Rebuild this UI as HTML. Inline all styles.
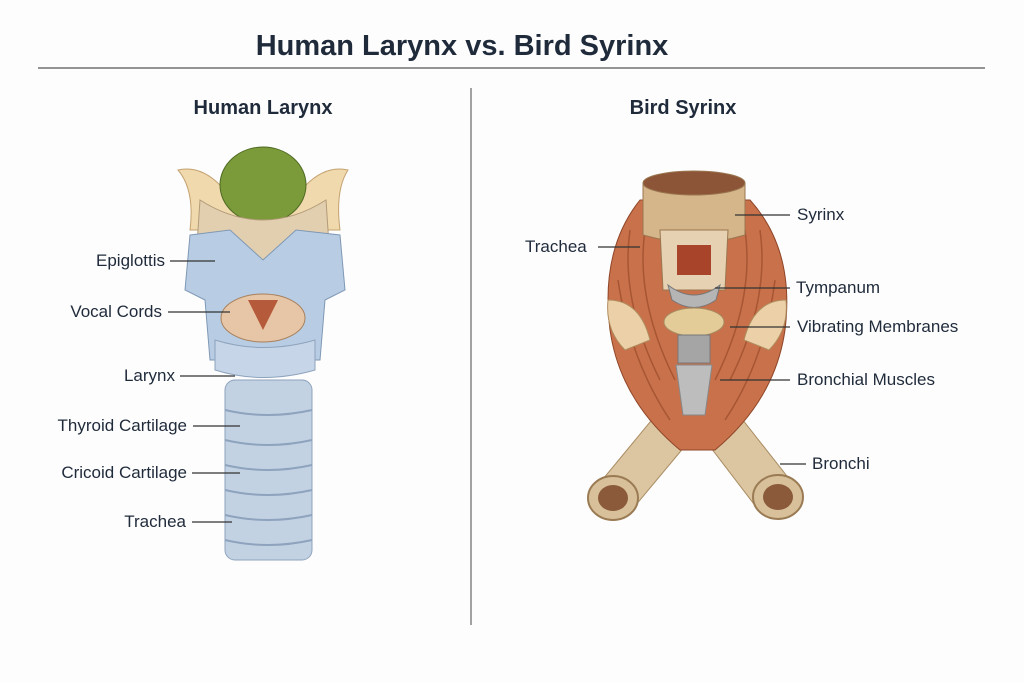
<!DOCTYPE html>
<html><head><meta charset="utf-8"><style>
html,body{margin:0;padding:0;background:#fdfdfd;}
svg{display:block}
text{font-family:"Liberation Sans",sans-serif;fill:#1f2a3a}
</style></head><body>
<svg width="1024" height="683" viewBox="0 0 1024 683" xmlns="http://www.w3.org/2000/svg">
<rect width="1024" height="683" fill="#fdfdfd"/>
<text x="462" y="55" font-size="29" font-weight="bold" text-anchor="middle">Human Larynx vs.  Bird Syrinx</text>
<line x1="38" y1="68" x2="985" y2="68" stroke="#555" stroke-width="1.2"/>
<line x1="471" y1="88" x2="471" y2="625" stroke="#666" stroke-width="1.2"/>
<text x="263" y="114" font-size="20" font-weight="bold" text-anchor="middle">Human Larynx</text>
<text x="683" y="114" font-size="20" font-weight="bold" text-anchor="middle">Bird Syrinx</text>

<!-- Human larynx -->
<g>
<rect x="225" y="380" width="87" height="180" rx="10" fill="#c3d2e3" stroke="#8ea3bd"/>
<g stroke="#8ea3bd" stroke-width="2" fill="none">
<path d="M225 410 Q268 420 312 410"/><path d="M225 440 Q268 450 312 440"/>
<path d="M225 465 Q268 475 312 465"/><path d="M225 490 Q268 500 312 490"/>
<path d="M225 515 Q268 525 312 515"/><path d="M225 540 Q268 550 312 540"/>
</g>
<path d="M178 170 Q200 165 220 185 L306 185 Q326 165 348 170 Q335 190 340 230 L190 230 Q195 190 178 170Z" fill="#efd9ad" stroke="#c4a270"/>
<ellipse cx="263" cy="185" rx="43" ry="38" fill="#7b9a3a" stroke="#4e6a22"/>
<path d="M200 200 Q263 240 326 200 L330 260 L196 260Z" fill="#e2cfb0" stroke="#b39a78"/>
<path d="M190 235 L230 230 L263 260 L296 230 L340 235 L345 290 L325 300 L320 360 L210 360 L205 300 L185 290Z" fill="#b8cde3" stroke="#7f98b5"/>
<ellipse cx="263" cy="318" rx="42" ry="24" fill="#e6c6a6" stroke="#a8805d"/>
<path d="M248 300 L263 330 L278 300 Z" fill="#b55a3a"/>
<path d="M215 340 Q263 355 315 340 L315 370 Q263 385 215 370Z" fill="#c6d6e8" stroke="#8ea3bd"/>
</g>
<g font-size="17" text-anchor="end">
<text x="165" y="266">Epiglottis</text>
<text x="162" y="317">Vocal Cords</text>
<text x="175" y="381">Larynx</text>
<text x="187" y="431">Thyroid Cartilage</text>
<text x="187" y="478">Cricoid Cartilage</text>
<text x="186" y="527">Trachea</text>
</g>
<g stroke="#333" stroke-width="1.3">
<line x1="170" y1="261" x2="215" y2="261"/>
<line x1="168" y1="312" x2="230" y2="312"/>
<line x1="180" y1="376" x2="235" y2="376"/>
<line x1="193" y1="426" x2="240" y2="426"/>
<line x1="192" y1="473" x2="240" y2="473"/>
<line x1="192" y1="522" x2="232" y2="522"/>
</g>

<!-- Bird syrinx -->
<g>
<path d="M660 410 L598 485 L630 512 L690 440Z" fill="#dcc6a2" stroke="#a88b62"/>
<path d="M735 410 L790 480 L760 512 L705 440Z" fill="#dcc6a2" stroke="#a88b62"/>
<ellipse cx="613" cy="498" rx="25" ry="22" fill="#d8c19a" stroke="#9a7b54" stroke-width="2"/>
<ellipse cx="613" cy="498" rx="15" ry="13" fill="#8a5a3a"/>
<ellipse cx="778" cy="497" rx="25" ry="22" fill="#d8c19a" stroke="#9a7b54" stroke-width="2"/>
<ellipse cx="778" cy="497" rx="15" ry="13" fill="#8a5a3a"/>
<path d="M640 200 Q600 250 610 330 Q620 400 680 450 L715 450 Q775 400 785 330 Q795 250 750 200Z" fill="#c8714a" stroke="#8e4528"/>
<g stroke="#9a4a2a" stroke-width="1.5" fill="none" opacity="0.7">
<path d="M630 230 Q620 300 660 380"/><path d="M645 230 Q635 300 675 380"/>
<path d="M760 230 Q770 300 730 380"/><path d="M745 230 Q755 300 715 380"/>
<path d="M618 280 Q630 360 670 420"/><path d="M775 280 Q765 360 725 420"/>
</g>
<path d="M643 183 L745 183 L745 235 Q695 250 643 235Z" fill="#d5b58a" stroke="#9a7650"/>
<ellipse cx="694" cy="183" rx="51" ry="12" fill="#8d5537" stroke="#9a7650"/>
<path d="M660 230 L728 230 L725 290 L663 290Z" fill="#e6d2b2" stroke="#9a7650"/>
<rect x="677" y="245" width="34" height="30" fill="#a8442a"/>
<path d="M668 285 Q694 305 720 285 L716 300 Q694 315 672 300Z" fill="#b5b5b5" stroke="#777"/>
<ellipse cx="694" cy="322" rx="30" ry="14" fill="#e4cc99" stroke="#a88b62"/>
<rect x="678" y="335" width="32" height="28" fill="#a5a5a5" stroke="#777"/>
<path d="M676 365 L712 365 L705 415 L683 415Z" fill="#bdbdbd" stroke="#888"/>
<path d="M608 300 Q640 300 650 340 L625 350 Q605 330 608 300Z" fill="#ecd0a8" stroke="#b08d5f"/>
<path d="M786 300 Q754 300 744 340 L769 350 Q789 330 786 300Z" fill="#ecd0a8" stroke="#b08d5f"/>
</g>
<g font-size="17">
<text x="797" y="220">Syrinx</text>
<text x="525" y="252">Trachea</text>
<text x="796" y="293">Tympanum</text>
<text x="797" y="332">Vibrating Membranes</text>
<text x="797" y="385">Bronchial Muscles</text>
<text x="812" y="469">Bronchi</text>
</g>
<g stroke="#333" stroke-width="1.3">
<line x1="735" y1="215" x2="790" y2="215"/>
<line x1="598" y1="247" x2="640" y2="247"/>
<line x1="715" y1="288" x2="790" y2="288"/>
<line x1="730" y1="327" x2="790" y2="327"/>
<line x1="720" y1="380" x2="790" y2="380"/>
<line x1="780" y1="464" x2="806" y2="464"/>
</g>
</svg>
</body></html>
